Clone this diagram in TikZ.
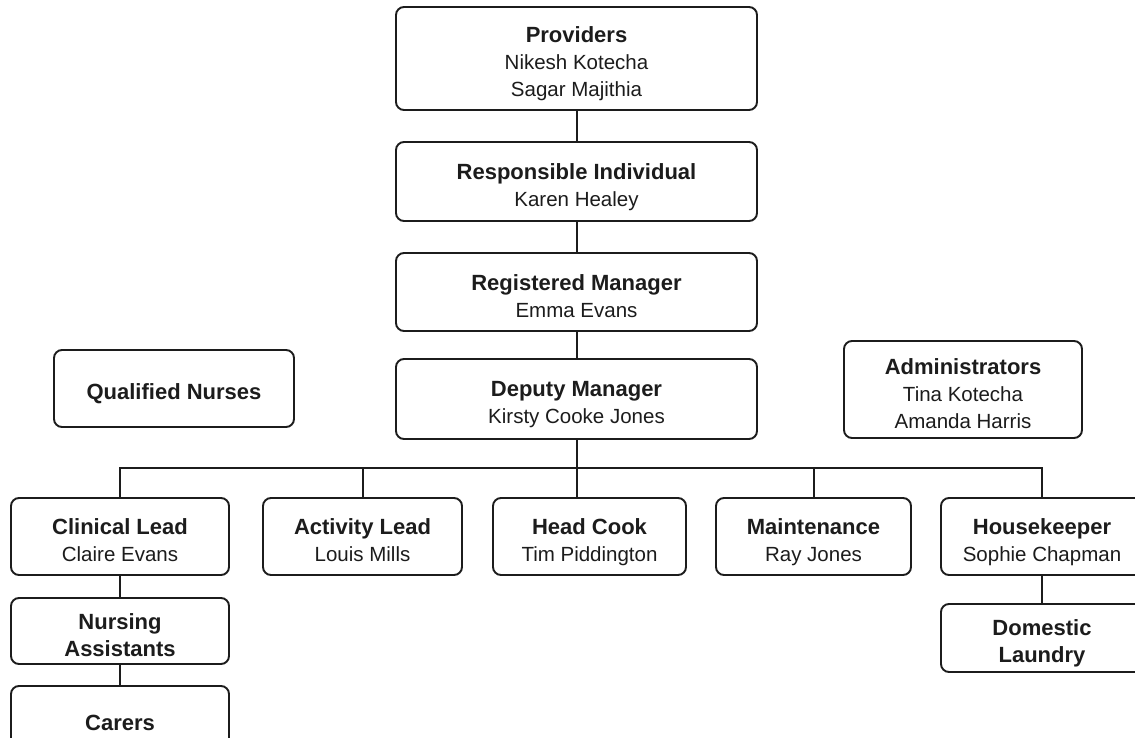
\documentclass[tikz,border=0pt]{standalone}
\usepackage{fontspec}
\setmainfont{Liberation Sans}
\definecolor{ink}{HTML}{1C1C1C}
\newcommand{\boxfont}{\fontsize{20.5}{27}\selectfont\lineskiplimit=-40pt\relax\lineskip=0pt\relax}
\tikzset{
  box/.style={draw=ink, line width=1.9pt, rounded corners=8pt, fill=white, text=ink,
    align=center, inner sep=0pt, font=\boxfont},
  link/.style={draw=ink, line width=2pt},
}
\newcommand{\lstrut}{\rule[-4pt]{0pt}{31pt}}
\newcommand{\ttl}[1]{{\fontsize{22}{27}\selectfont\bfseries #1}\lstrut}
\newcommand{\nm}[1]{#1\lstrut}
\begin{document}
\begin{tikzpicture}[x=1pt,y=-1pt]
\useasboundingbox (0,0) rectangle (1135,738);
\fill[white] (0,0) rectangle (1135,738);
\clip (0,0) rectangle (1135,738);
\node[box, minimum width=361pt, minimum height=103pt] (prov) at (576.5,58.5) {\ttl{Providers}\\\nm{Nikesh Kotecha}\\\nm{Sagar Majithia}};
\node[box, minimum width=361pt, minimum height=79pt] (resp) at (576.5,181.5) {\ttl{Responsible Individual}\\\nm{Karen Healey}};
\node[box, minimum width=361pt, minimum height=78pt] (reg) at (576.5,292) {\ttl{Registered Manager}\\\nm{Emma Evans}};
\node[box, minimum width=361pt, minimum height=80pt] (dep) at (576.5,399) {\ttl{Deputy Manager}\\\nm{Kirsty Cooke Jones}};
\node[box, minimum width=240pt, minimum height=77pt] (qn) at (174,388.5) {\ttl{Qualified Nurses}};
\node[box, minimum width=238pt, minimum height=97pt] (adm) at (963,389.5) {\ttl{Administrators}\\\nm{Tina Kotecha}\\\nm{Amanda Harris}};
\node[box, minimum width=218pt, minimum height=77pt] (cl) at (120,536.5) {\ttl{Clinical Lead}\\\nm{Claire Evans}};
\node[box, minimum width=199pt, minimum height=77pt] (al) at (362.5,536.5) {\ttl{Activity Lead}\\\nm{Louis Mills}};
\node[box, minimum width=193pt, minimum height=77pt] (hc) at (589.5,536.5) {\ttl{Head Cook}\\\nm{Tim Piddington}};
\node[box, minimum width=195pt, minimum height=77pt] (mt) at (813.5,536.5) {\ttl{Maintenance}\\\nm{Ray Jones}};
\node[box, minimum width=202pt, minimum height=77pt] (hk) at (1042,536.5) {\ttl{Housekeeper}\\\nm{Sophie Chapman}};
\node[box, minimum width=202pt, minimum height=68pt] (dl) at (1042,638) {\ttl{Domestic}\\\ttl{Laundry}};
\node[box, minimum width=218pt, minimum height=66pt] (na) at (120,631) {\ttl{Nursing}\\\ttl{Assistants}};
\node[box, minimum width=218pt, minimum height=66pt] (ca) at (120,719) {\ttl{Carers}};
\coordinate (barR) at (1042,468);
\draw[link] (prov.south) -- (resp.north);
\draw[link] (resp.south) -- (reg.north);
\draw[link] (reg.south) -- (dep.north);
\draw[link] (dep.south) -- (dep.south |- hc.north);
\draw[link] (cl.north) |- (barR) -- (hk.north);
\draw[link] (al.north) -- (al.north |- barR);
\draw[link] (mt.north) -- (mt.north |- barR);
\draw[link] (cl.south) -- (na.north);
\draw[link] (na.south) -- (ca.north);
\draw[link] (hk.south) -- (dl.north);
\end{tikzpicture}
\end{document}
